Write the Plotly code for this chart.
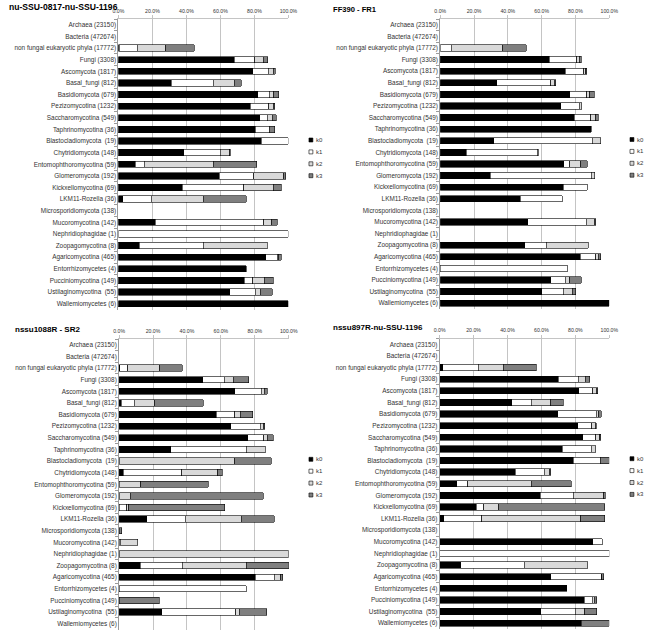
import plotly.graph_objects as go

categories = [
    "Archaea (23150)", "Bacteria (472674)", "non fungal eukaryotic phyla (17772)",
    "Fungi (3308)", "Ascomycota (1817)", "Basal_fungi (812)", "Basidiomycota (679)",
    "Pezizomycotina (1232)", "Saccharomycotina (549)", "Taphrinomycotina (36)",
    "Blastocladiomycota  (19)", "Chytridiomycota (148)", "Entomophthoromycotina (59)",
    "Glomeromycota (192)", "Kickxellomycotina (69)", "LKM11-Rozella (36)",
    "Microsporidiomycota (138)", "Mucoromycotina (142)", "Nephridiophagidae (1)",
    "Zoopagomycotina (8)", "Agaricomycotina (465)", "Entorrhizomycetes (4)",
    "Pucciniomycotina (149)", "Ustilaginomycotina  (55)", "Wallemiomycetes (6)",
]
series_names = ["k0", "k1", "k2", "k3"]
panel_titles = ["nu-SSU-0817-nu-SSU-1196", "FF390 - FR1", "nssu1088R - SR2", "nssu897R-nu-SSU-1196"]
tick_values = [0, 20, 40, 60, 80, 100]
tick_labels = ["0.0%", "20.0%", "40.0%", "60.0%", "80.0%", "100.0%"]

# Panel 1: nu-SSU-0817-nu-SSU-1196 (percent)
p1_k0 = [0, 0, 0.6, 68.0, 79.1, 31.0, 82.0, 77.4, 83.0, 80.5, 84.1, 38.5, 10.0, 59.4, 37.5, 2.7, 0, 21.8, 0, 12.3, 86.6, 75.1, 73.9, 65.5, 100]
p1_k1 = [0, 0, 10.5, 12.1, 9.0, 24.9, 6.7, 10.9, 4.4, 8.2, 15.9, 21.5, 5.3, 20.1, 36.3, 16.6, 0, 63.6, 100, 37.5, 6.9, 0, 5.2, 15.0, 0]
p1_k2 = [0, 0, 16.7, 5.1, 2.9, 12.1, 2.7, 2.7, 3.0, 0, 0, 5.5, 40.6, 17.8, 17.2, 30.5, 0, 4.8, 0, 37.7, 0.9, 0, 6.7, 2.8, 0]
p1_k3 = [0, 0, 16.8, 2.5, 1.3, 4.2, 3.0, 0.8, 2.5, 3.1, 0, 0.3, 25.5, 1.0, 4.8, 25.3, 0, 3.3, 0, 0, 1.4, 0, 5.4, 7.1, 0]

# Panel 2: FF390 - FR1
p2_k0 = [0, 0, 0, 64.5, 74.0, 33.3, 76.7, 71.3, 79.2, 89.2, 31.8, 15.4, 73.2, 29.5, 72.8, 47.4, 0, 51.8, 0, 50.1, 82.9, 0, 65.3, 60.1, 100]
p2_k1 = [0, 0, 6.4, 16.2, 11.0, 32.2, 10.0, 11.0, 9.8, 0, 58.0, 42.0, 3.5, 59.7, 14.3, 24.9, 0, 34.7, 0, 12.5, 9.2, 75.1, 8.7, 12.7, 0]
p2_k2 = [0, 0, 30.6, 1.6, 1.1, 1.9, 1.7, 1.5, 2.9, 0, 5.2, 0.6, 6.5, 2.3, 0, 0, 0, 4.6, 0, 25.1, 1.3, 0, 2.5, 5.2, 0]
p2_k3 = [0, 0, 13.9, 1.1, 0.6, 0.8, 2.7, 0, 1.5, 0, 0, 0, 3.7, 0, 0, 0, 0, 0.8, 0, 0, 1.6, 0, 6.9, 2.3, 0]

# Panel 3: nssu1088R - SR2
p3_k0 = [0, 0, 0.4, 49.3, 68.1, 1.2, 57.2, 65.8, 75.8, 30.5, 0, 2.5, 0, 0, 0, 16.3, 0, 0, 0, 12.5, 80.2, 0, 0, 25.3, 0]
p3_k1 = [0, 0, 4.6, 12.7, 15.8, 7.8, 11.1, 17.3, 9.6, 44.4, 0, 34.5, 0, 0, 4.4, 22.7, 0, 0.6, 0, 24.7, 11.2, 74.9, 0, 43.6, 0]
p3_k2 = [0, 0, 19.0, 5.2, 1.7, 12.1, 3.1, 1.9, 1.9, 11.3, 68.3, 21.2, 12.9, 6.5, 1.2, 33.0, 0, 10.3, 100, 37.8, 3.8, 0, 0, 1.9, 0]
p3_k3 = [0, 0, 13.2, 9.2, 1.7, 28.4, 7.3, 1.0, 3.5, 0, 21.3, 2.5, 39.7, 78.5, 56.6, 19.6, 1.7, 0, 0, 25.0, 1.3, 0, 23.6, 16.1, 0]

# Panel 4: nssu897R-nu-SSU-1196
p4_k0 = [0, 0, 1.9, 69.9, 82.1, 42.6, 69.5, 81.4, 84.5, 72.4, 78.9, 44.5, 10.0, 59.3, 21.7, 2.5, 0, 90.2, 0, 12.3, 65.5, 75.0, 85.2, 59.7, 83.5]
p4_k1 = [0, 0, 20.9, 11.7, 8.1, 11.5, 22.8, 8.2, 7.4, 16.9, 15.7, 17.1, 6.5, 19.6, 4.2, 22.3, 0, 5.6, 100, 37.6, 29.7, 0, 4.8, 20.3, 0]
p4_k2 = [0, 0, 14.6, 4.2, 2.1, 11.4, 1.4, 2.0, 2.5, 2.6, 0, 3.1, 37.4, 17.8, 8.8, 58.5, 0, 0, 0, 37.4, 0.3, 0, 1.0, 5.4, 0]
p4_k3 = [0, 0, 19.6, 2.7, 1.0, 7.4, 1.7, 0.7, 0.6, 0, 5.4, 0.9, 23.6, 0.8, 62.6, 14.0, 0, 0, 0, 0, 1.2, 0, 1.7, 7.3, 16.5]

panel_data = [
    [p1_k0, p1_k1, p1_k2, p1_k3],
    [p2_k0, p2_k1, p2_k2, p2_k3],
    [p3_k0, p3_k1, p3_k2, p3_k3],
    [p4_k0, p4_k1, p4_k2, p4_k3],
]

W, H = 661, 633
colors = {"k0": "#000000", "k1": "#ffffff", "k2": "#d9d9d9", "k3": "#7f7f7f"}
FONT = "Liberation Sans, Arial, sans-serif"

# layout geometry in pixels
geom = [
    dict(x=(115, 289), y=(19, 309.5), leg=(310, 140), title=(1, 7, 8.6)),
    dict(x=(444.3, 617.3), y=(19, 309.0), leg=(638.5, 139.5), title=(333, 9, 7.6)),
    dict(x=(115.7, 289.3), y=(339, 629.5), leg=(310, 459.3), title=(7, 329, 8)),
    dict(x=(443.7, 617.3), y=(338.5, 629.0), leg=(638.5, 458.7), title=(333, 327, 8)),
]

def fx(p):
    return p / W

def fy(p):
    return 1 - p / H

fig = go.Figure()
shapes = []
annotations = []
layout = {}

for i, (vals4, g) in enumerate(zip(panel_data, geom), start=1):
    xa = "x" if i == 1 else f"x{i}"
    ya = "y" if i == 1 else f"y{i}"
    for name, vals in zip(series_names, vals4):
        fig.add_trace(go.Bar(
            y=categories,
            x=[v if v else None for v in vals],
            orientation="h",
            name=name,
            xaxis=xa, yaxis=ya,
            marker=dict(color=colors[name], line=dict(color="#000000", width=0.6)),
            showlegend=False,
            hovertemplate="%{y}<br>" + name + ": %{x:.1f}%<extra></extra>",
        ))
    xkey = "xaxis" if i == 1 else f"xaxis{i}"
    ykey = "yaxis" if i == 1 else f"yaxis{i}"
    layout[xkey] = dict(
        domain=[fx(g["x"][0]), fx(g["x"][1])],
        anchor=ya, side="top", range=[0, 100],
        tickvals=tick_values, ticktext=tick_labels,
        showgrid=True, gridcolor="#c4c4c4", gridwidth=1,
        showline=True, linecolor="#c4c4c4", linewidth=1,
        ticks="outside", ticklen=3, tickcolor="#c4c4c4",
        tickfont=dict(size=5.2, color="#333333", family=FONT),
        zeroline=False, fixedrange=True,
    )
    layout[ykey] = dict(
        domain=[fy(g["y"][1]), fy(g["y"][0])],
        anchor=xa, type="category",
        categoryorder="array", categoryarray=categories,
        range=[len(categories) - 0.5, -0.5],
        showline=True, linecolor="#9a9a9a", linewidth=1,
        ticks="outside", ticklen=3, tickcolor="#9a9a9a", tickson="boundaries",
        tickfont=dict(size=6.4, color="#333333", family=FONT),
        showgrid=False, zeroline=False, fixedrange=True,
    )
    # panel title
    tx, ty, ts = g["title"]
    annotations.append(dict(
        text="<b>" + panel_titles[i - 1] + "</b>", x=fx(tx), y=fy(ty),
        xref="paper", yref="paper", xanchor="left", yanchor="middle",
        showarrow=False, font=dict(size=ts, color="#000000", family=FONT),
    ))
    # legend
    lx, ly = g["leg"]
    for j, name in enumerate(series_names):
        cy = ly + j * 11.9
        shapes.append(dict(
            type="rect", xref="paper", yref="paper",
            x0=fx(lx), x1=fx(lx + 4), y0=fy(cy + 2), y1=fy(cy - 2),
            fillcolor=colors[name], line=dict(color="#000000", width=0.6),
        ))
        annotations.append(dict(
            text=name, x=fx(lx + 5), y=fy(cy), xref="paper", yref="paper",
            xanchor="left", yanchor="middle", showarrow=False,
            font=dict(size=6, color="#333333", family=FONT),
        ))

fig.update_layout(
    width=W, height=H,
    margin=dict(l=0, r=0, t=0, b=0),
    barmode="stack", bargap=0.46,
    paper_bgcolor="#ffffff", plot_bgcolor="#ffffff",
    showlegend=False,
    shapes=shapes, annotations=annotations,
    font=dict(family=FONT),
    **layout,
)

fig.write_html(
    "out.html",
    config={"displayModeBar": False},
    post_script="document.body.style.margin='0';document.body.style.overflow='hidden';",
)
